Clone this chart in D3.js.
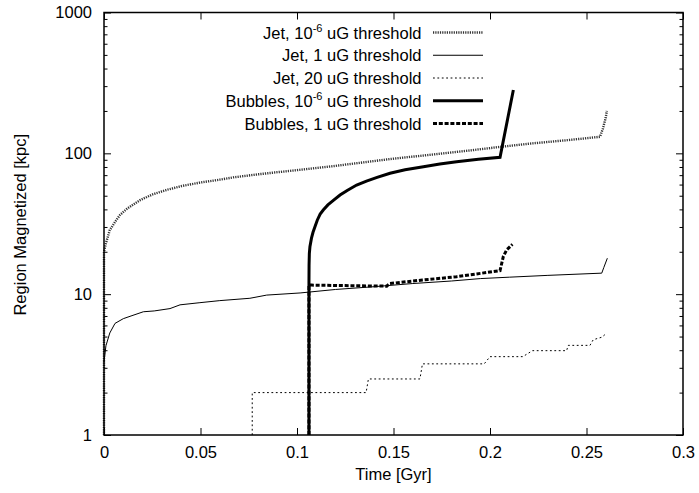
<!DOCTYPE html>
<html>
<head>
<meta charset="utf-8">
<script src="https://cdn.jsdelivr.net/npm/d3@7"></script>
<style>
body { margin: 0; background: #fff; }
svg { display: block; font-family: "Liberation Sans", Arial, Helvetica, sans-serif; }
</style>
</head>
<body>
<svg id="chart" width="699" height="493"></svg>
<script>
// ---- data (Time [Gyr], Region Magnetized [kpc]) ----
const jetMicro = [[0,1],[0,20],[0.001,23],[0.003,28.5],[0.006,33],[0.0083,36.5],[0.012,40.5],[0.0187,46.5],[0.025,51],[0.0325,55],[0.04,58.5],[0.0497,62],[0.06,65],[0.067,67.5],[0.08,71],[0.09,73.5],[0.1,76],[0.12,81.5],[0.148,91],[0.17,98],[0.19,105],[0.205,111],[0.22,117],[0.24,124],[0.257,131],[0.2585,150],[0.26,180],[0.2605,200]];
const jetOne = [[0,3.3],[0.001,4.3],[0.003,5.3],[0.0057,6.2],[0.01,6.7],[0.014,7.0],[0.0204,7.5],[0.026,7.6],[0.0342,7.9],[0.0394,8.4],[0.0497,8.7],[0.06,9.0],[0.0756,9.35],[0.0843,9.85],[0.1016,10.2],[0.12,10.8],[0.14,11.3],[0.16,11.9],[0.18,12.4],[0.195,12.9],[0.21,13.2],[0.23,13.6],[0.2579,14.1],[0.259,15.5],[0.2608,18]];
const jetTwenty = [[0.0768,1],[0.0768,2.0],[0.1358,2.0],[0.137,2.5],[0.1637,2.5],[0.165,3.2],[0.197,3.2],[0.2,3.6],[0.217,3.6],[0.222,3.97],[0.2397,3.97],[0.2405,4.33],[0.2518,4.33],[0.2535,4.75],[0.258,4.95],[0.2605,5.3]];
const bubMicro = [[0.1062,1],[0.1062,12],[0.10625,16],[0.1064,19.5],[0.1067,21.7],[0.1075,25],[0.1083,27.5],[0.1093,30.1],[0.1105,33.5],[0.112,37],[0.1136,39.6],[0.116,43],[0.119,46.5],[0.1223,50.6],[0.126,54.5],[0.1309,59.6],[0.136,63.5],[0.1415,67.5],[0.1482,72.2],[0.156,76.5],[0.1655,80.4],[0.174,84],[0.1827,87.3],[0.194,90.7],[0.2052,93.7],[0.2121,282]];
const bubOne = [[0.1062,1],[0.1062,11.6],[0.1075,11.6],[0.125,11.5],[0.1465,11.4],[0.148,11.9],[0.165,12.6],[0.1827,13.3],[0.2052,14.7],[0.2069,18.5],[0.2086,20.6],[0.2116,22.6]];

const xTicks = [0, 0.05, 0.1, 0.15, 0.2, 0.25, 0.3];
const xTickLabels = ["0", "0.05", "0.1", "0.15", "0.2", "0.25", "0.3"];
const yTicks = [1, 10, 100, 1000];
const yTickLabels = ["1", "10", "100", "1000"];
const legendLabels = [
  ["Jet, 10", "-6", " uG threshold"],
  ["Jet, 1 uG threshold"],
  ["Jet, 20 uG threshold"],
  ["Bubbles, 10", "-6", " uG threshold"],
  ["Bubbles, 1 uG threshold"]
];

// ---- layout ----
const L = 104, R = 683, T = 12.5, B = 435;
const FS = 16.5;
const svg = d3.select("#chart");
const x = d3.scaleLinear().domain([0, 0.3]).range([L, R]);
const y = d3.scaleLog().domain([1, 1000]).range([B, T]);

const minorY = [];
[1, 10, 100].forEach(d => { for (let k = 2; k <= 9; k++) minorY.push(d * k); });

const styles = [
  { w: 2.4, dash: "1.2,1.1", color: "#333" },
  { w: 1, dash: null, color: "#000" },
  { w: 1, dash: "1.8,2.6", color: "#000" },
  { w: 3, dash: null, color: "#000" },
  { w: 3, dash: "4,1.8", color: "#000" }
];
const series = [jetMicro, jetOne, jetTwenty, bubMicro, bubOne];

// axes
function styleAxis(g) {
  g.select(".domain").remove();
  g.selectAll("line").attr("stroke", "#000").attr("stroke-width", 1);
  g.selectAll("text").attr("font-size", FS).attr("fill", "#000").attr("font-family", "Liberation Sans, Arial, sans-serif");
}
svg.append("g").attr("transform", `translate(0,${B})`)
  .call(d3.axisBottom(x).tickValues(xTicks).tickFormat((d, i) => xTickLabels[i]).tickSize(-7).tickPadding(11))
  .call(styleAxis);
svg.append("g").attr("transform", `translate(0,${T})`)
  .call(d3.axisTop(x).tickValues(xTicks).tickFormat("").tickSize(-7))
  .call(styleAxis);
svg.append("g").attr("transform", `translate(${L},0)`)
  .call(d3.axisLeft(y).tickValues(yTicks).tickFormat((d, i) => yTickLabels[i]).tickSize(-7).tickPadding(12))
  .call(styleAxis);
svg.append("g").attr("transform", `translate(${L},0)`)
  .call(d3.axisLeft(y).tickValues(minorY).tickFormat("").tickSize(-3.5))
  .call(styleAxis);
svg.append("g").attr("transform", `translate(${R},0)`)
  .call(d3.axisRight(y).tickValues(yTicks).tickFormat("").tickSize(-7))
  .call(styleAxis);
svg.append("g").attr("transform", `translate(${R},0)`)
  .call(d3.axisRight(y).tickValues(minorY).tickFormat("").tickSize(-3.5))
  .call(styleAxis);

// lines
const line = d3.line().x(d => x(d[0])).y(d => y(d[1]));
series.forEach((s, i) => {
  const st = styles[i];
  svg.append("path").datum(s)
    .attr("d", line)
    .attr("fill", "none")
    .attr("stroke", st.color)
    .attr("stroke-width", st.w)
    .attr("stroke-dasharray", st.dash)
    .attr("stroke-linejoin", "miter");
});

// frame
svg.append("rect").attr("x", L).attr("y", T).attr("width", R - L).attr("height", B - T)
  .attr("fill", "none").attr("stroke", "#000").attr("stroke-width", 1.5);

// axis titles
svg.append("text").attr("x", (L + R) / 2).attr("y", 480).attr("text-anchor", "middle")
  .attr("font-size", FS).text("Time [Gyr]");
svg.append("text").attr("transform", `translate(26,${(T + B) / 2 + 1}) rotate(-90)`)
  .attr("text-anchor", "middle").attr("font-size", FS).text("Region Magnetized [kpc]");

// legend
const legY = d3.scaleLinear().domain([0, 4]).range([32.5, 123.5]);
legendLabels.forEach((parts, i) => {
  const cy = legY(i);
  const t = svg.append("text").attr("x", 421.5).attr("y", cy + 6).attr("text-anchor", "end").attr("font-size", FS);
  t.append("tspan").text(parts[0]);
  if (parts.length > 1) {
    t.append("tspan").attr("font-size", 11).attr("dy", -7).text(parts[1]);
    t.append("tspan").attr("dy", 7).text(parts[2]);
  }
  const st = styles[i];
  svg.append("line").attr("x1", 433).attr("x2", 483).attr("y1", cy).attr("y2", cy)
    .attr("stroke", st.color).attr("stroke-width", st.w).attr("stroke-dasharray", st.dash);
});
</script>
</body>
</html>
